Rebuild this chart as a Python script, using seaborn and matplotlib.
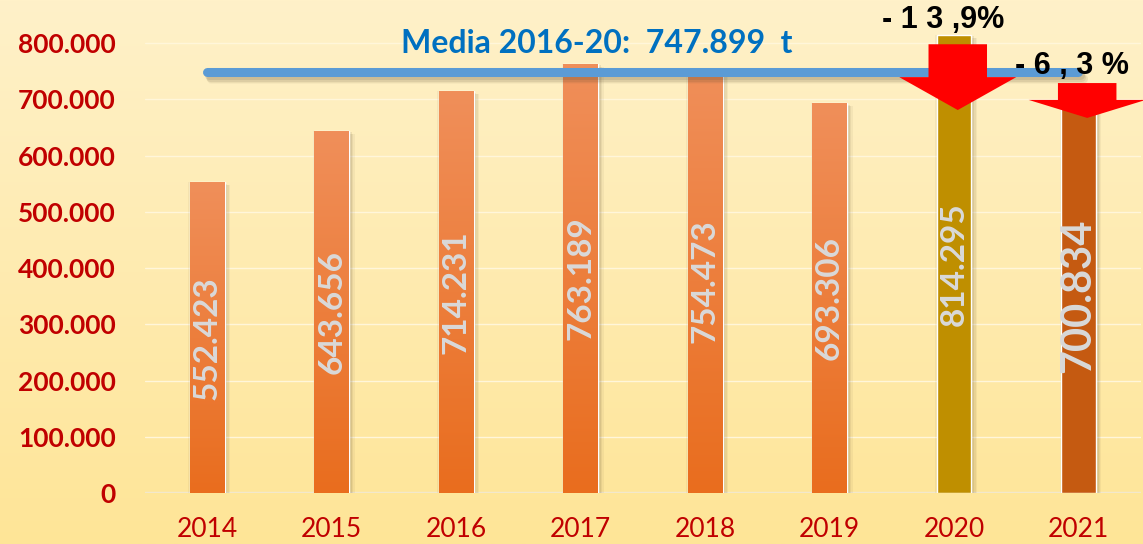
import numpy as np
import pandas as pd
import matplotlib
matplotlib.use("Agg")
import matplotlib.pyplot as plt
import matplotlib.patheffects as pe
from matplotlib.patches import FancyArrow
from matplotlib.colors import LinearSegmentedColormap
from matplotlib.ticker import FuncFormatter, MultipleLocator
import seaborn as sns

# data
YEARS = ["2014", "2015", "2016", "2017", "2018", "2019", "2020", "2021"]
TONNES = [552423, 643656, 714231, 763189, 754473, 693306, 814295, 700834]
MEDIA_2016_20 = 747899
CHANGE_LABELS = {"2020": "- 1 3 ,9%", "2021": "- 6 , 3 %"}

SOLID_COLORS = {"2020": "#BF8F00", "2021": "#C55A11"}
DARK_RED = "#C00000"


def thousands(v, pos=None):
    return f"{int(v):,}".replace(",", ".")


def soft_shadow(kind, steps, color="#5a4a30"):
    """Cheap blurred shadow: several offset shadows with low alpha."""
    effects = []
    for dx, dy, a in steps:
        if kind == "patch":
            effects.append(pe.SimplePatchShadow(offset=(dx, dy), shadow_rgbFace=color, alpha=a))
        else:
            effects.append(pe.SimpleLineShadow(offset=(dx, dy), shadow_color=color, alpha=a))
    effects.append(pe.Normal())
    return effects


def main():
    sns.set_theme(style="white")
    plt.rcParams["font.family"] = ["Lato", "DejaVu Sans"]

    df = pd.DataFrame({"year": YEARS, "t": TONNES})

    fig = plt.figure(figsize=(11.43, 5.44), dpi=100)

    # background gradient (pale top -> warmer yellow bottom)
    bg = fig.add_axes([0, 0, 1, 1], zorder=-10)
    bg_cmap = LinearSegmentedColormap.from_list("bg", ["#FFF1C9", "#FEE597"])
    bg.imshow(np.linspace(0, 1, 256).reshape(-1, 1), aspect="auto", cmap=bg_cmap,
              extent=[0, 1, 0, 1])
    bg.set_axis_off()

    ax = fig.add_axes([0.1269, 0.0938, 0.8711, 0.8786])
    ax.patch.set_alpha(0)

    palette = {y: "#EC7A30" for y in YEARS}
    palette.update(SOLID_COLORS)
    sns.barplot(data=df, x="year", y="t", hue="year", palette=palette,
                width=0.28, legend=False, ax=ax, zorder=3, saturation=1)

    ax.set_xlim(-0.5, len(YEARS) - 0.5)
    ax.set_ylim(0, 850000)

    bar_cmap = LinearSegmentedColormap.from_list("bar", ["#E96D1E", "#F08F5A"])
    for patch, year, val in zip(ax.patches, YEARS, TONNES):
        patch.set_path_effects(soft_shadow("patch", ((2, -1, 0.10), (3, -2, 0.08),
                                                     (4, -2, 0.06), (-1, 0, 0.06))))
        if year not in SOLID_COLORS:
            x0 = patch.get_x()
            w = patch.get_width()
            img = ax.imshow(np.linspace(0, 1, 256).reshape(-1, 1), cmap=bar_cmap,
                            origin="lower", aspect="auto",
                            extent=[x0, x0 + w, 0, val], zorder=4)
            img.set_clip_path(patch)
        # value label inside bar
        big = year == "2021"
        ax.text(patch.get_x() + patch.get_width() / 2, val / 2, thousands(val),
                rotation=90, ha="center", va="center",
                fontsize=30 if big else 24, fontweight="bold",
                color="#D9D9D9", zorder=6)

    ax.set_xlim(-0.5, len(YEARS) - 0.5)
    ax.set_ylim(0, 850000)

    # faint gridlines + baseline
    ax.yaxis.set_major_locator(MultipleLocator(100000))
    ax.yaxis.set_major_formatter(FuncFormatter(thousands))
    for v in range(100000, 900000, 100000):
        ax.axhline(v, color="#FFF6DA", lw=1, zorder=1)
    ax.axhline(0, color="#F2E8CC", lw=2.5, zorder=2)

    # average line 2016-20
    ax.plot([0, len(YEARS) - 1], [MEDIA_2016_20, MEDIA_2016_20], color="#5B9BD5",
            lw=6.5, solid_capstyle="round", zorder=5,
            path_effects=soft_shadow("line", ((1, -2, 0.12), (2, -3, 0.10),
                                              (3, -4, 0.07), (3, -5, 0.04))))
    ax.text(3.13, 800000, "Media 2016-20:  747.899  t", ha="center", va="center",
            fontsize=23, fontweight="bold", color="#0070C0", zorder=6, clip_on=False)

    # drop arrows
    ax.add_patch(FancyArrow(6.03, 798000, 0, -117000, width=0.47, head_width=0.94,
                            head_length=58500, length_includes_head=True,
                            color="#FF0000", lw=0, zorder=7, clip_on=False))
    ax.add_patch(FancyArrow(7.07, 729000, 0, -62000, width=0.47, head_width=0.94,
                            head_length=32000, length_includes_head=True,
                            color="#FF0000", lw=0, zorder=7, clip_on=False))
    ax.text(5.91, 841000, CHANGE_LABELS["2020"], ha="center", va="center", fontsize=22,
            fontweight="bold", color="black", family="Liberation Sans", zorder=8, clip_on=False)
    ax.text(6.95, 760000, CHANGE_LABELS["2021"], ha="center", va="center", fontsize=22,
            fontweight="bold", color="black", family="Liberation Sans", zorder=8, clip_on=False)

    ax.set_xlabel("")
    ax.set_ylabel("")
    sns.despine(ax=ax, left=True, bottom=True)
    ax.tick_params(axis="y", length=0, pad=21, labelsize=19, labelcolor=DARK_RED)
    ax.tick_params(axis="x", length=0, pad=17, labelsize=19, labelcolor=DARK_RED)
    for lbl in ax.get_yticklabels():
        lbl.set_fontweight("bold")

    fig.savefig("out.png", dpi=100)
    plt.close(fig)


if __name__ == "__main__":
    main()
